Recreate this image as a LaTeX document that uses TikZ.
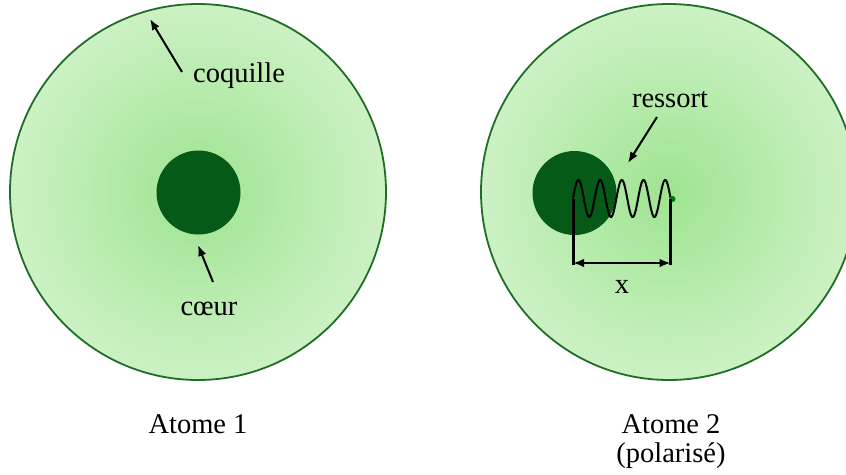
\documentclass[tikz,border=0pt]{standalone}
\usepackage{fontspec}
\setmainfont{Liberation Serif}
\usetikzlibrary{arrows.meta}
\definecolor{shellin}{RGB}{158,228,145}
\definecolor{shellout}{RGB}{204,241,196}
\definecolor{shellline}{RGB}{30,110,40}
\definecolor{corecol}{RGB}{4,90,22}
\begin{document}
\begin{tikzpicture}[x=1pt, y=-1pt, font=\fontsize{28.5}{29}\selectfont, >={Latex[length=11pt,width=8.5pt]},
          shell/.style={circle, draw=shellline, line width=1.8pt, shading=radial, inner color=shellin, outer color=shellout, minimum size=376pt, inner sep=0pt},
          core/.style={circle, fill=corecol, minimum size=84pt, inner sep=0pt},
          lbl/.style={anchor=base, inner sep=0pt},
          arr/.style={->, line width=2pt},
          spring/.style={line width=2pt},
          bar/.style={line width=3pt}]
        \useasboundingbox (0,0) rectangle (846,474);
        \clip (0,0) rectangle (846,474);
        % atome 1
        \node[shell] (shA) at (198,192) {};
        \node[core] (coA) at (198.5,192.5) {};
        \node[lbl] (lblcoq) at (239,82) {coquille};
        \node[lbl] (lblcoeur) at (209,315) {cœur};
        \node[lbl] (lblA) at (198,433) {Atome 1};
        \coordinate (coqtail) at (182,72);
        \coordinate (coqtip) at (150,19);
        \coordinate (coeurtail) at (213,282);
        \coordinate (coeurtip) at (198,245);
        \draw[arr] (coqtail) -- (coqtip);
        \draw[arr] (coeurtail) -- (coeurtip);
        % atome 2 (polarise)
        \node[shell] (shB) at (669,192) {};
        \node[core] (coB) at (574.5,193) {};
        \coordinate (sprL) at (573,198.5);
        \coordinate (sprR) at (670.6,198.5);
        \draw[spring] plot[domain=0:4.5, samples=220] ({573+21.7*\x}, {198.5-18.5*sin(360*\x)});
        \node[circle, fill=corecol!85!green, minimum size=6pt, inner sep=0pt] (sprend) at (672.5,199) {};
        \coordinate (measL) at (573,263);
        \coordinate (measR) at (670.6,263);
        \draw[bar] (sprL) -- ([yshift=-1.5pt]measL);
        \draw[bar] (sprR) -- ([yshift=-1.5pt]measR);
        \draw[<->, line width=2pt] (measL) -- (measR);
        \node[lbl] (lblx) at (622,293) {x};
        \node[lbl] (lblres) at (670,107) {ressort};
        \coordinate (restail) at (657,117);
        \coordinate (restip) at (628,163);
        \draw[arr] (restail) -- (restip);
        \node[lbl, align=center] (lblB) at (671,462) {Atome 2\\(polarisé)};
      \end{tikzpicture}
\end{document}
